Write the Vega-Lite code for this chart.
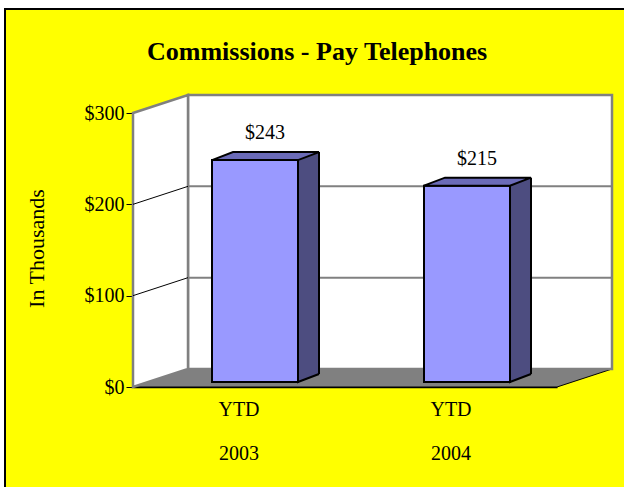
{
  "$schema": "https://vega.github.io/schema/vega-lite/v6.json",
  "width": 640,
  "height": 500,
  "autosize": {"type": "none"},
  "padding": {"left": 5, "top": 9, "right": -21, "bottom": -22},
  "background": "white",
  "config": {
    "view": {"fill": "#FFFF00", "stroke": "black", "strokeWidth": 2},
    "font": "Liberation Serif",
    "axisY": {
      "offset": -128,
      "zindex": 1,
      "grid": false,
      "domainColor": "#404040",
      "domainWidth": 2,
      "tickColor": "black",
      "tickSize": 7,
      "tickWidth": 1,
      "labelFont": "Liberation Serif",
      "labelFontSize": 20,
      "labelColor": "black",
      "labelPadding": 2,
      "titleFont": "Liberation Serif",
      "titleFontSize": 22,
      "titleFontWeight": "normal",
      "titleColor": "black",
      "titleAngle": -90,
      "titleAlign": "center",
      "titleBaseline": "middle",
      "titleX": -97,
      "titleY": 239
    },
    "axisX": {
      "offset": -122,
      "zindex": 1,
      "grid": false,
      "ticks": false,
      "domainColor": "black",
      "domainWidth": 1.5,
      "labelFont": "Liberation Serif",
      "labelFontSize": 20,
      "labelColor": "black",
      "labelAngle": 0,
      "labelLineHeight": 44,
      "labelPadding": 12
    }
  },
  "title": {
    "text": "Commissions - Pay Telephones",
    "font": "Liberation Serif",
    "fontSize": 26,
    "fontWeight": "bold",
    "color": "black",
    "anchor": "start",
    "frame": "group",
    "baseline": "alphabetic",
    "offset": 0,
    "dy": 77,
    "dx": 142
  },
  "datasets": {
    "bars": [
      {"period": "YTD 2003", "value": 243},
      {"period": "YTD 2004", "value": 215}
    ],
    "grid": [{"tick": 100}, {"tick": 200}],
    "one": [{}]
  },
  "layer": [
    {
      "data": {"name": "one"},
      "mark": {"type": "point", "shape": "M0,0 L424,0 L479,-18 L55,-18", "size": 4, "filled": true, "fill": "#808080", "stroke": "black", "strokeWidth": 1, "opacity": 1},
      "encoding": {
        "x": {"datum": "YTD 2003", "type": "nominal", "bandPosition": 0, "scale": {"domain": ["YTD 2003", "YTD 2004"], "range": [128, 552], "paddingInner": 0, "paddingOuter": 0}},
        "y": {"datum": 0, "type": "quantitative", "scale": {"domain": [0, 300], "range": [378, 104], "nice": false, "zero": true}}
      }
    },
    {
      "data": {"name": "one"},
      "mark": {"type": "point", "shape": "M55,-18 L479,-18 L479,-292 L55,-292 Z", "size": 4, "filled": true, "fill": "white", "stroke": "#808080", "strokeWidth": 2.5, "opacity": 1},
      "encoding": {
        "x": {"datum": "YTD 2003", "type": "nominal", "bandPosition": 0},
        "y": {"datum": 0, "type": "quantitative"}
      }
    },
    {
      "data": {"name": "one"},
      "mark": {"type": "point", "shape": "M0,0 L55,-18 L55,-292 L0,-274 Z", "size": 4, "filled": true, "fill": "white", "stroke": "#808080", "strokeWidth": 2.5, "opacity": 1},
      "encoding": {
        "x": {"datum": "YTD 2003", "type": "nominal", "bandPosition": 0},
        "y": {"datum": 0, "type": "quantitative"}
      }
    },
    {
      "data": {"name": "grid"},
      "mark": {"type": "point", "shape": "M0,0 L55,-18", "size": 4, "filled": false, "stroke": "black", "strokeWidth": 1, "opacity": 1},
      "encoding": {
        "x": {"datum": "YTD 2003", "type": "nominal", "bandPosition": 0},
        "y": {"field": "tick", "type": "quantitative"}
      }
    },
    {
      "data": {"name": "grid"},
      "mark": {"type": "point", "shape": "M55,-18 L479,-18", "size": 4, "filled": false, "stroke": "#808080", "strokeWidth": 2, "opacity": 1},
      "encoding": {
        "x": {"datum": "YTD 2003", "type": "nominal", "bandPosition": 0},
        "y": {"field": "tick", "type": "quantitative"}
      }
    },
    {
      "data": {"name": "bars"},
      "mark": {"type": "bar", "width": 21, "xOffset": 69.5, "yOffset": -13, "y2Offset": -13, "fill": "#4D4D80", "strokeWidth": 0},
      "encoding": {
        "x": {"field": "period", "type": "nominal", "title": null, "axis": {"labelExpr": "split(datum.label, ' ')"}},
        "y": {"field": "value", "type": "quantitative", "title": "In Thousands", "axis": {"values": [0, 100, 200, 300], "format": "$.0f"}}
      }
    },
    {
      "data": {"name": "bars"},
      "mark": {"type": "point", "shape": "M43,-8 L43,0 L64,-8", "size": 4, "filled": true, "fill": "#4D4D80", "stroke": "black", "strokeWidth": 2, "opacity": 1, "xOffset": 16, "yOffset": -5},
      "encoding": {
        "x": {"field": "period", "type": "nominal", "bandPosition": 0.5},
        "y": {"datum": 0, "type": "quantitative"}
      }
    },
    {
      "data": {"name": "bars"},
      "mark": {"type": "rule", "stroke": "black", "strokeWidth": 2, "xOffset": 80, "yOffset": -13, "y2Offset": -13},
      "encoding": {
        "x": {"field": "period", "type": "nominal", "bandPosition": 0.5},
        "y": {"field": "value", "type": "quantitative"},
        "y2": {"datum": 0}
      }
    },
    {
      "data": {"name": "bars"},
      "mark": {"type": "bar", "width": 86, "xOffset": 16, "yOffset": -5, "y2Offset": -5, "fill": "#9999FF", "stroke": "black", "strokeWidth": 2},
      "encoding": {
        "x": {"field": "period", "type": "nominal"},
        "y": {"field": "value", "type": "quantitative"}
      }
    },
    {
      "data": {"name": "bars"},
      "mark": {"type": "point", "shape": "M-43,0 L43,0 L64,-8 L-22,-8 Z", "size": 4, "filled": true, "fill": "#6B6BB8", "stroke": "black", "strokeWidth": 2, "opacity": 1, "xOffset": 16, "yOffset": -5},
      "encoding": {
        "x": {"field": "period", "type": "nominal", "bandPosition": 0.5},
        "y": {"field": "value", "type": "quantitative"}
      }
    },
    {
      "data": {"name": "bars"},
      "mark": {"type": "text", "font": "Liberation Serif", "fontSize": 20, "color": "black", "baseline": "alphabetic", "align": "center", "xOffset": 26, "yOffset": -26},
      "encoding": {
        "x": {"field": "period", "type": "nominal", "bandPosition": 0.5},
        "y": {"field": "value", "type": "quantitative"},
        "text": {"field": "value", "type": "quantitative", "format": "$.0f"}
      }
    }
  ]
}
